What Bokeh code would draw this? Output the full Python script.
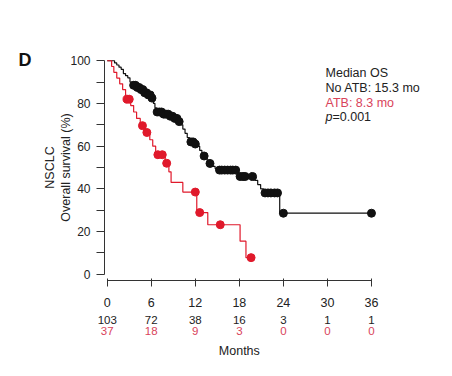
import numpy as np
from bokeh.plotting import figure
from bokeh.models import LinearAxis, FixedTicker, Label, Range1d
from bokeh.embed import file_html
from bokeh.resources import INLINE

# ---- data ----
months_ticks = [0, 6, 12, 18, 24, 30, 36]
risk_no_atb = [103, 72, 38, 16, 3, 1, 1]
risk_atb = [37, 18, 9, 3, 0, 0, 0]

black_t = [0, 1.0, 1.3, 1.6, 1.9, 2.2, 2.5, 2.8, 3.1, 3.4, 4.0, 4.6, 5.1, 5.6, 6.0,
           6.3, 6.5, 6.7, 7.6, 8.4, 9.0, 9.6, 10.0, 10.3, 10.6, 10.9, 11.2, 11.9,
           12.3, 12.6, 12.9, 13.1, 13.6, 13.9, 14.3, 14.7, 15.1, 17.9, 20.1, 20.5,
           20.9, 21.3, 23.5]
black_s = [100, 99, 98, 97, 96, 94, 93, 92, 90, 88.5, 87.5, 86.5, 85, 84, 82.5,
           80, 78, 76, 75, 74, 73, 71.5, 70, 68, 66, 64, 62, 61,
           60, 58, 56.5, 55.4, 53.5, 51.9, 50.5, 49.5, 48.8, 45.8, 44, 42,
           40, 38.1, 28.6]
black_end = 36
black_cens = [3.6, 3.85, 4.1, 4.35, 4.6, 4.85, 5.1, 5.35, 5.6, 5.85, 6.1, 6.8, 7.1,
              7.4, 7.7, 8.0, 8.3, 8.6, 8.9, 9.2, 9.5, 9.8, 11.4, 11.7, 12.0, 13.2,
              14.0, 15.3, 15.6, 16.0, 16.4, 16.8, 17.1, 17.5, 18.1, 18.5, 18.8, 19.8,
              21.5, 21.9, 22.3, 22.8, 23.2, 24.0, 36.0]

red_t = [0, 0.6, 0.9, 1.3, 1.7, 2.1, 2.5, 3.2, 3.6, 4.0, 4.5, 5.2, 5.8, 6.2, 6.6,
         7.9, 8.4, 8.7, 10.3, 12.2, 13.7, 18.1, 18.9]
red_s = [100, 97.3, 94.6, 91.9, 89.2, 86.5, 82, 79, 76, 73, 69.6, 66.4, 63, 60, 56,
         52, 48, 43, 38.5, 28.9, 23.2, 15.5, 7.8]
red_end = 19.6
red_cens = [2.7, 3.0, 4.8, 5.4, 6.9, 7.5, 8.1, 12.0, 12.6, 15.4, 19.6]

BLACK = "#111111"
RED = "#e0192b"
RED_TXT = "#d9435b"
FONT = "Liberation Sans"
W, H = 436, 360


def surv_at(ts, ss, t):
    i = np.searchsorted(np.array(ts), np.array(t), side="right") - 1
    return list(np.array(ss)[i])


p = figure(width=W, height=H, output_backend="svg", toolbar_location=None,
           x_range=Range1d(-14.54, 44.86), y_range=Range1d(-2.91, 104.8),
           min_border_left=0, min_border_right=0, min_border_top=50,
           min_border_bottom=77, x_axis_location=None, y_axis_location=None)
p.outline_line_color = None
p.xgrid.visible = False
p.ygrid.visible = False
p.background_fill_color = "white"
p.border_fill_color = "white"

# curves
bx = black_t + [black_end]
by = black_s + [black_s[-1]]
p.step(bx, by, mode="after", line_color=BLACK, line_width=1.2)
p.scatter(black_cens, surv_at(black_t, black_s, black_cens), size=8,
          fill_color=BLACK, line_color=BLACK)

rx = red_t + [red_end]
ry = red_s + [red_s[-1]]
p.step(rx, ry, mode="after", line_color=RED, line_width=1.2)
p.scatter(red_cens, surv_at(red_t, red_s, red_cens), size=8,
          fill_color=RED, line_color=RED)

# y axis, drawn slightly left of month 0 (offset axis)
ya = LinearAxis(ticker=FixedTicker(ticks=[0, 20, 40, 60, 80, 100],
                                   minor_ticks=[10, 30, 50, 70, 90]),
                bounds=(0, 100), axis_label="NSCLC\nOverall survival (%)",
                fixed_location=-0.37)
ya.major_tick_out = 8
ya.major_tick_in = 0
ya.minor_tick_out = 8
ya.minor_tick_in = 0
ya.major_label_standoff = 6
ya.major_label_text_font = FONT
ya.major_label_text_font_size = "12px"
ya.major_label_text_color = "#222222"
ya.axis_label_text_font = FONT
ya.axis_label_text_font_size = "12.5px"
ya.axis_label_text_font_style = "normal"
ya.axis_label_text_color = "#222222"
ya.axis_label_standoff = -6
ya.axis_line_color = "#333333"
ya.major_tick_line_color = "#333333"
ya.minor_tick_line_color = "#333333"
p.add_layout(ya, "left")

# x axis
xa = LinearAxis(ticker=FixedTicker(ticks=months_ticks), bounds=(0, 36))
xa.major_tick_out = 6
xa.major_tick_in = 2
xa.minor_tick_out = 0
xa.minor_tick_in = 0
xa.major_label_standoff = 11
xa.major_label_text_font = FONT
xa.major_label_text_font_size = "12.5px"
xa.major_label_text_color = "#222222"
xa.axis_line_color = "#333333"
xa.major_tick_line_color = "#333333"
p.add_layout(xa, "below")


def risk_axis(values, color, standoff, label=None):
    a = LinearAxis(ticker=FixedTicker(ticks=months_ticks), bounds=(0, 36))
    a.major_label_overrides = {t: str(v) for t, v in zip(months_ticks, values)}
    a.axis_line_color = None
    a.major_tick_line_color = None
    a.minor_tick_line_color = None
    a.major_tick_out = 0
    a.major_tick_in = 0
    a.minor_tick_out = 0
    a.major_label_standoff = standoff
    a.major_label_text_font = FONT
    a.major_label_text_font_size = "11.5px"
    a.major_label_text_color = color
    if label:
        a.axis_label = label
        a.axis_label_text_font = FONT
        a.axis_label_text_font_size = "12.5px"
        a.axis_label_text_font_style = "normal"
        a.axis_label_text_color = "#222222"
        a.axis_label_standoff = 6
    return a


p.add_layout(risk_axis(risk_no_atb, "#222222", 6), "below")
# the label is centred on the whole (widened) frame; pad it so it sits under month 18
p.add_layout(risk_axis(risk_atb, RED_TXT, 0, "\u00a0" * 12 + "Months"), "below")

# panel letter
p.add_layout(Label(x=-12.08, y=100.3, text="D", text_font=FONT, text_font_size="18px",
                   text_font_style="bold", text_color="#111111",
                   text_baseline="middle"))

# median OS text block
lx = 29.74
TS = "12.5px"
p.add_layout(Label(x=lx, y=94.2, text="Median OS", text_font=FONT, text_font_size=TS,
                   text_color="#222222", text_baseline="middle"))
p.add_layout(Label(x=lx, y=87.3, text="No ATB: 15.3 mo", text_font=FONT,
                   text_font_size=TS, text_color="#222222", text_baseline="middle"))
p.add_layout(Label(x=lx, y=80.4, text="ATB: 8.3 mo", text_font=FONT,
                   text_font_size=TS, text_color=RED_TXT, text_baseline="middle"))
p.add_layout(Label(x=lx, y=73.5, text="p", text_font=FONT, text_font_size=TS,
                   text_font_style="italic", text_color="#222222", text_baseline="middle"))
p.add_layout(Label(x=lx + 0.95, y=73.5, text="=0.001", text_font=FONT,
                   text_font_size=TS, text_color="#222222", text_baseline="middle"))

open("out.html", "w").write(file_html(p, INLINE))
